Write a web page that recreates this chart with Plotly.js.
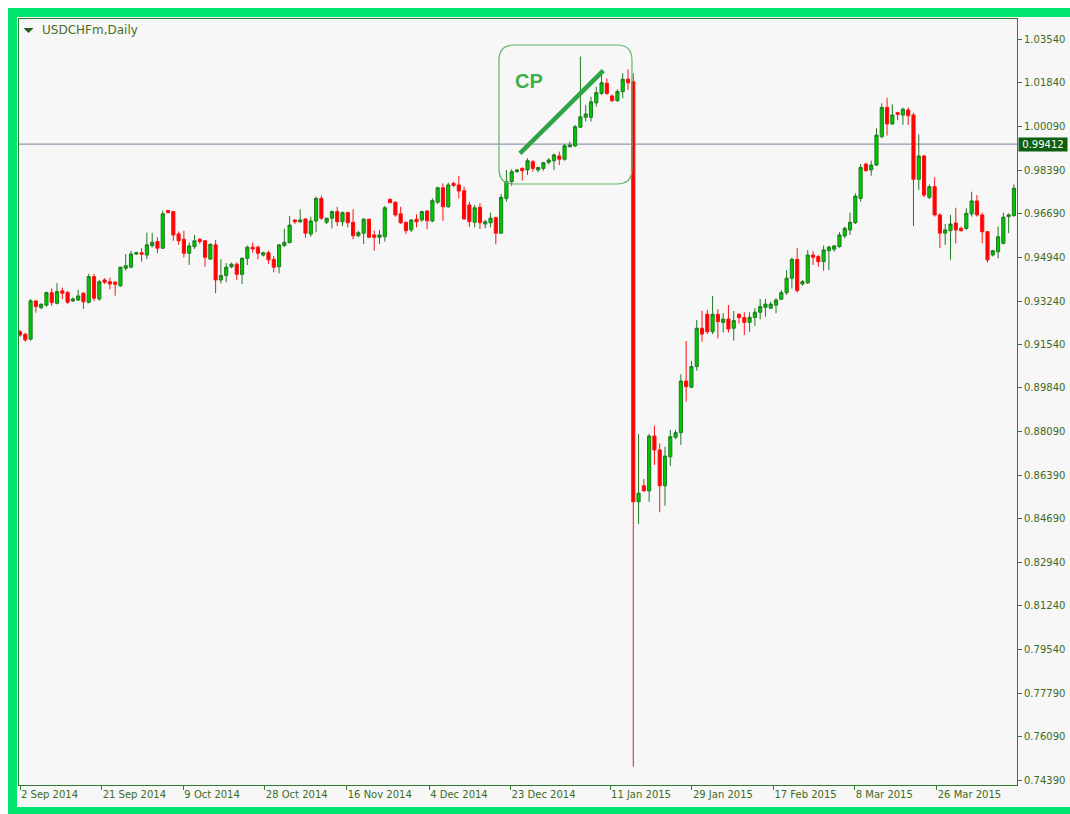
<!DOCTYPE html>
<html><head><meta charset="utf-8">
<script src="https://cdn.plot.ly/plotly-3.0.1.min.js"></script>
<style>
html,body{margin:0;padding:0;background:#ffffff;width:1070px;height:814px;overflow:hidden;}
#frame{position:absolute;left:8px;top:8px;width:1062px;height:806px;background:#00e46e;}
#chart{position:absolute;left:17px;top:17px;width:1053px;height:790px;}
</style></head><body>
<div id="frame"></div>
<div id="chart"></div>
<script>
// USDCHFm, Daily — bar-by-bar OHLC (bar index = position on the chart)
const openP = [
0.9203,0.9193,0.9174,0.9324,0.9298,0.9308,0.9357,0.9315,0.9364,0.9358,
0.9324,0.9328,0.9355,0.9319,0.9420,0.9332,0.9407,0.9400,0.9398,0.9384,
0.9453,0.9457,0.9509,0.9514,0.9505,0.9542,0.9558,0.9532,0.9680,0.9676,
0.9588,0.9567,0.9512,0.9538,0.9567,0.9561,0.9489,0.9545,0.9407,0.9424,
0.9459,0.9469,0.9429,0.9492,0.9536,0.9536,0.9505,0.9514,0.9488,0.9459,
0.9542,0.9554,0.9643,0.9636,0.9647,0.9588,0.9639,0.9728,0.9634,0.9650,
0.9676,0.9636,0.9672,0.9634,0.9581,0.9591,0.9646,0.9584,0.9575,0.9577,
0.9724,0.9713,0.9667,0.9634,0.9604,0.9646,0.9643,0.9678,0.9639,0.9713,
0.9770,0.9695,0.9787,0.9781,0.9758,0.9702,0.9634,0.9693,0.9627,0.9632,
0.9652,0.9591,0.9728,0.9794,0.9833,0.9846,0.9840,0.9872,0.9840,0.9846,
0.9870,0.9876,0.9895,0.9882,0.9931,0.9934,1.0008,1.0047,1.0047,1.0104,
1.0141,1.0181,1.0131,1.0112,1.0148,1.0197,1.0187,0.8534,0.8597,0.8577,
0.8793,0.8738,0.8597,0.8711,0.8788,0.8806,0.9009,0.8985,0.9066,0.9217,
0.9272,0.9203,0.9272,0.9240,0.9253,0.9217,0.9272,0.9259,0.9240,0.9259,
0.9280,0.9299,0.9296,0.9308,0.9331,0.9357,0.9414,0.9488,0.9391,0.9396,
0.9505,0.9499,0.9479,0.9522,0.9528,0.9538,0.9580,0.9604,0.9632,0.9728,
0.9863,0.9840,0.9859,0.9971,1.0086,1.0021,1.0065,1.0056,1.0076,1.0056,
0.9803,0.9895,0.9732,0.9774,0.9663,0.9591,0.9601,0.9631,0.9610,0.9610,
0.9667,0.9718,0.9663,0.9597,0.9505,0.9518,0.9551,0.9656,0.9660];

const highP = [
0.9210,0.9200,0.9332,0.9328,0.9315,0.9361,0.9374,0.9394,0.9377,0.9364,
0.9339,0.9368,0.9358,0.9431,0.9431,0.9407,0.9414,0.9416,0.9403,0.9459,
0.9509,0.9521,0.9518,0.9532,0.9593,0.9593,0.9575,0.9680,0.9682,0.9678,
0.9597,0.9601,0.9554,0.9584,0.9571,0.9564,0.9551,0.9564,0.9488,0.9473,
0.9475,0.9476,0.9496,0.9542,0.9554,0.9542,0.9518,0.9522,0.9501,0.9548,
0.9608,0.9659,0.9646,0.9685,0.9650,0.9656,0.9735,0.9739,0.9650,0.9680,
0.9695,0.9676,0.9676,0.9685,0.9600,0.9650,0.9648,0.9601,0.9604,0.9698,
0.9728,0.9715,0.9695,0.9636,0.9646,0.9665,0.9680,0.9682,0.9728,0.9774,
0.9787,0.9790,0.9794,0.9816,0.9774,0.9715,0.9702,0.9709,0.9643,0.9672,
0.9656,0.9745,0.9840,0.9843,0.9843,0.9850,0.9886,0.9879,0.9853,0.9872,
0.9886,0.9905,0.9912,0.9942,0.9951,1.0017,1.0286,1.0095,1.0128,1.0167,
1.0214,1.0200,1.0137,1.0157,1.0220,1.0236,1.0220,0.8801,0.8624,0.8801,
0.8834,0.8764,0.8751,0.8817,0.8817,0.9036,0.9167,0.9088,0.9249,0.9286,
0.9289,0.9344,0.9292,0.9276,0.9308,0.9285,0.9276,0.9280,0.9280,0.9296,
0.9332,0.9332,0.9321,0.9335,0.9368,0.9446,0.9495,0.9532,0.9407,0.9525,
0.9521,0.9505,0.9542,0.9542,0.9545,0.9595,0.9617,0.9672,0.9748,0.9863,
0.9868,0.9876,1.0004,1.0102,1.0124,1.0098,1.0069,1.0085,1.0086,1.0065,
0.9980,0.9899,0.9783,0.9811,0.9669,0.9627,0.9663,0.9691,0.9617,0.9689,
0.9754,0.9741,0.9672,0.9599,0.9525,0.9617,0.9672,0.9669,0.9783];

const lowP = [
0.9184,0.9164,0.9168,0.9278,0.9292,0.9302,0.9305,0.9311,0.9332,0.9312,
0.9321,0.9324,0.9293,0.9315,0.9324,0.9325,0.9391,0.9370,0.9345,0.9380,
0.9443,0.9453,0.9505,0.9479,0.9489,0.9535,0.9512,0.9529,0.9669,0.9561,
0.9545,0.9496,0.9466,0.9529,0.9548,0.9459,0.9486,0.9355,0.9394,0.9398,
0.9453,0.9407,0.9391,0.9466,0.9514,0.9488,0.9499,0.9470,0.9437,0.9433,
0.9538,0.9551,0.9627,0.9631,0.9573,0.9577,0.9595,0.9643,0.9627,0.9610,
0.9619,0.9619,0.9614,0.9567,0.9575,0.9548,0.9571,0.9522,0.9548,0.9558,
0.9709,0.9656,0.9627,0.9588,0.9595,0.9614,0.9636,0.9607,0.9634,0.9706,
0.9640,0.9691,0.9772,0.9728,0.9643,0.9616,0.9614,0.9607,0.9610,0.9614,
0.9547,0.9588,0.9715,0.9777,0.9829,0.9798,0.9820,0.9833,0.9831,0.9837,
0.9862,0.9840,0.9859,0.9876,0.9929,0.9931,1.0004,1.0030,1.0030,1.0089,
1.0135,1.0135,1.0108,1.0108,1.0122,1.0154,0.7492,0.8447,0.8574,0.8534,
0.8679,0.8493,0.8519,0.8675,0.8780,0.8758,0.8928,0.8981,0.9050,0.9164,
0.9194,0.9194,0.9177,0.9200,0.9200,0.9168,0.9236,0.9190,0.9203,0.9226,
0.9252,0.9262,0.9292,0.9276,0.9328,0.9348,0.9374,0.9357,0.9384,0.9391,
0.9466,0.9459,0.9443,0.9446,0.9518,0.9534,0.9571,0.9584,0.9627,0.9715,
0.9833,0.9817,0.9855,0.9964,0.9975,1.0017,1.0036,1.0017,1.0017,0.9619,
0.9761,0.9732,0.9726,0.9656,0.9532,0.9545,0.9486,0.9551,0.9597,0.9604,
0.9656,0.9656,0.9551,0.9475,0.9499,0.9492,0.9547,0.9591,0.9656];

const closeP = [
0.9190,0.9171,0.9325,0.9302,0.9311,0.9357,0.9318,0.9361,0.9355,0.9319,
0.9332,0.9344,0.9321,0.9420,0.9335,0.9400,0.9398,0.9391,0.9390,0.9457,
0.9463,0.9509,0.9514,0.9508,0.9545,0.9555,0.9532,0.9667,0.9672,0.9584,
0.9561,0.9512,0.9541,0.9561,0.9558,0.9496,0.9547,0.9407,0.9424,0.9457,
0.9469,0.9429,0.9492,0.9536,0.9529,0.9512,0.9514,0.9486,0.9457,0.9545,
0.9555,0.9623,0.9636,0.9643,0.9591,0.9639,0.9728,0.9650,0.9650,0.9676,
0.9636,0.9672,0.9632,0.9581,0.9593,0.9646,0.9575,0.9575,0.9584,0.9691,
0.9711,0.9663,0.9632,0.9601,0.9643,0.9636,0.9676,0.9640,0.9719,0.9770,
0.9695,0.9781,0.9779,0.9757,0.9647,0.9636,0.9691,0.9632,0.9636,0.9650,
0.9591,0.9732,0.9794,0.9833,0.9840,0.9837,0.9876,0.9846,0.9849,0.9868,
0.9879,0.9899,0.9882,0.9935,0.9938,1.0010,1.0049,1.0060,1.0108,1.0144,
1.0183,1.0141,1.0112,1.0148,1.0197,1.0183,0.8534,0.8568,0.8577,0.8793,
0.8738,0.8597,0.8714,0.8790,0.8806,0.9009,0.8987,0.9066,0.9217,0.9194,
0.9203,0.9272,0.9243,0.9253,0.9214,0.9247,0.9259,0.9240,0.9260,0.9280,
0.9302,0.9312,0.9312,0.9328,0.9357,0.9414,0.9488,0.9365,0.9400,0.9505,
0.9496,0.9479,0.9525,0.9536,0.9541,0.9584,0.9610,0.9634,0.9737,0.9850,
0.9837,0.9859,0.9977,1.0086,1.0021,1.0056,1.0059,1.0079,1.0053,0.9803,
0.9895,0.9741,0.9774,0.9663,0.9591,0.9604,0.9627,0.9604,0.9601,0.9669,
0.9718,0.9663,0.9597,0.9486,0.9522,0.9577,0.9654,0.9663,0.9768];

// date labels on the time axis and the bar position each one sits at
const dateLabels = ['2 Sep 2014','21 Sep 2014','9 Oct 2014','28 Oct 2014','16 Nov 2014','4 Dec 2014',
                    '23 Dec 2014','11 Jan 2015','29 Jan 2015','17 Feb 2015','8 Mar 2015','26 Mar 2015'];
const datePos = [0, 15.45, 30.9, 46.3, 61.8, 77.4, 92.8, 111.6, 127.1, 142.5, 157.9, 173.4];

// price scale labels
const priceTicks = [1.0354,1.0184,1.0009,0.9839,0.9669,0.9494,0.9324,0.9154,0.8984,
                    0.8809,0.8639,0.8469,0.8294,0.8124,0.7954,0.7779,0.7609,0.7439];
const priceLabels = ['1.03540','1.01840','1.00090','0.98390','0.96690','0.94940','0.93240','0.91540','0.89840',
                     '0.88090','0.86390','0.84690','0.82940','0.81240','0.79540','0.77790','0.76090','0.74390'];

const currentPrice = 0.99412;
const symbolTitle = 'USDCHFm,Daily';
const zoneLabel = 'CP';
// CP zone (bar positions / prices)
const zoneBars = [90.6, 115.75];
const zonePrices = [0.97846, 1.03315];
const trendBars = [94.57, 110.33];
const trendPrices = [0.99054, 1.02304];

const barIdx = openP.map((_, i) => i);

const axisGreen = '#2f7d2f';
const labelGreen = '#3d6b1d';
const tickFont = {family: 'DejaVu Sans, Verdana, sans-serif', size: 10, color: labelGreen};

const trace = {
  type: 'candlestick',
  x: barIdx,
  open: openP, high: highP, low: lowP, close: closeP,
  increasing: {line: {color: '#1f7a1f', width: 1}, fillcolor: '#00c800'},
  decreasing: {line: {color: '#ff1010', width: 1}, fillcolor: '#ff0000'},
  whiskerwidth: 0,
  hoverinfo: 'skip',
  showlegend: false
};

// rounded rectangle of the CP zone
const x0 = zoneBars[0], x1 = zoneBars[1], yb = zonePrices[0], yt = zonePrices[1];
const rx = 2.84, ry = 0.0059;
const zonePath = `M ${x0+rx},${yt} L ${x1-rx},${yt} Q ${x1},${yt} ${x1},${yt-ry} L ${x1},${yb+ry} Q ${x1},${yb} ${x1-rx},${yb} ` +
                 `L ${x0+rx},${yb} Q ${x0},${yb} ${x0},${yb+ry} L ${x0},${yt-ry} Q ${x0},${yt} ${x0+rx},${yt} Z`;

const layout = {
  width: 1053, height: 790,
  margin: {l: 2, r: 53, t: 2, b: 22, pad: 0},
  paper_bgcolor: '#f7f7f7',
  plot_bgcolor: '#f7f7f7',
  showlegend: false,
  boxgap: 0.3, boxgroupgap: 0.15,
  xaxis: {
    type: 'linear',
    range: [-0.19, 188.58],
    showgrid: false, zeroline: false,
    showline: true, mirror: true, linecolor: axisGreen, linewidth: 1,
    ticks: 'outside', ticklen: 4, tickcolor: axisGreen, tickwidth: 1,
    tickmode: 'array', tickvals: datePos, ticktext: dateLabels,
    ticklabelposition: 'outside right',
    tickfont: tickFont,
    rangeslider: {visible: false},
    fixedrange: true
  },
  yaxis: {
    side: 'right',
    range: [0.74196, 1.04338],
    showgrid: false, zeroline: false,
    showline: true, mirror: true, linecolor: axisGreen, linewidth: 1,
    ticks: 'outside', ticklen: 4, tickcolor: axisGreen, tickwidth: 1,
    tickmode: 'array', tickvals: priceTicks, ticktext: priceLabels,
    tickfont: tickFont,
    fixedrange: true
  },
  shapes: [
    {type: 'line', xref: 'paper', x0: 0, x1: 1, yref: 'y', y0: currentPrice, y1: currentPrice,
     line: {color: '#8e9aae', width: 1.2}, layer: 'below'},
    {type: 'path', xref: 'x', yref: 'y', path: zonePath,
     line: {color: '#5cb868', width: 1.2}, fillcolor: 'rgba(0,0,0,0)', layer: 'above'},
    {type: 'line', xref: 'x', yref: 'y', x0: trendBars[0], y0: trendPrices[0], x1: trendBars[1], y1: trendPrices[1],
     line: {color: '#2ea444', width: 4.5}, layer: 'above'},
    {type: 'path', xref: 'paper', yref: 'paper',
     path: 'M 0.0045,0.9883 L 0.0145,0.9883 L 0.0095,0.9817 Z',
     line: {color: '#1e5e1e', width: 0}, fillcolor: '#1e5e1e'}
  ],
  annotations: [
    {xref: 'paper', yref: 'paper', x: 0.021, y: 0.9852, xanchor: 'left', yanchor: 'middle',
     text: symbolTitle, showarrow: false,
     font: {family: 'DejaVu Sans, Verdana, sans-serif', size: 12, color: '#4d6e1f'}},
    {xref: 'x', yref: 'y', x: 96.3, y: 1.01918, text: '<b>' + zoneLabel + '</b>', showarrow: false,
     font: {family: 'Liberation Sans, Arial, sans-serif', size: 20, color: '#3fae4c'}},
    {xref: 'paper', yref: 'y', x: 1, y: currentPrice, xanchor: 'left', yanchor: 'middle', xshift: 1,
     text: currentPrice.toFixed(5), showarrow: false, width: 46, height: 11, align: 'center',
     bgcolor: '#0f5f12', borderpad: 1,
     font: {family: 'DejaVu Sans, Verdana, sans-serif', size: 10, color: '#ffffff'}}
  ]
};

Plotly.newPlot('chart', [trace], layout, {displayModeBar: false, staticPlot: true});
</script>
</body></html>
